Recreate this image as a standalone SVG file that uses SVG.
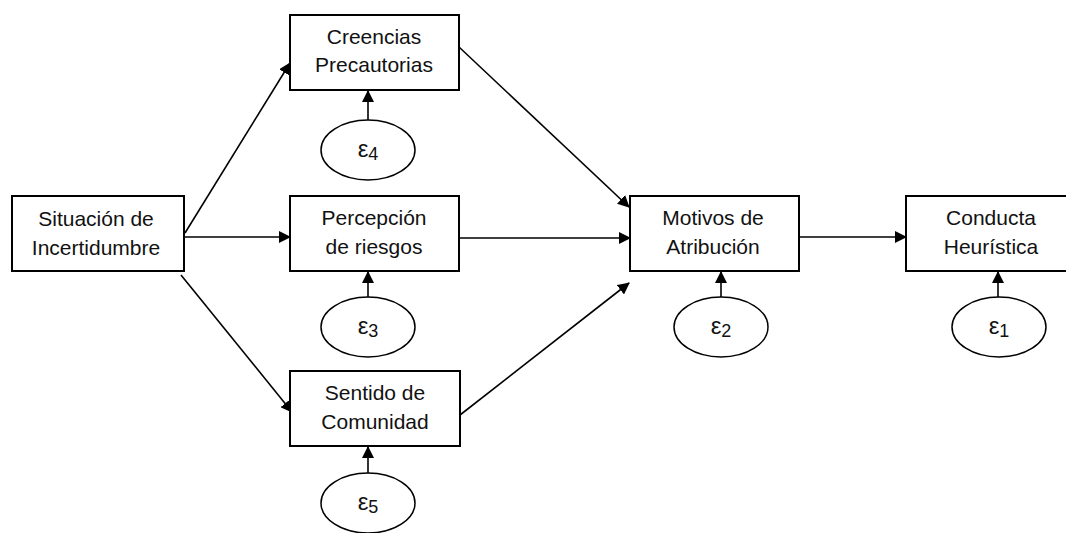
<svg xmlns="http://www.w3.org/2000/svg" width="1066" height="533" viewBox="0 0 1066 533">
<style>
.box{fill:#fff;stroke:#000;stroke-width:2}
.ell{fill:#fff;stroke:#000;stroke-width:1.5}
.lbl{font-family:"Liberation Sans",Arial,sans-serif;font-size:21px;fill:#111;text-anchor:middle}
.eps{font-family:"Liberation Sans",Arial,sans-serif;font-size:24px;fill:#111;text-anchor:middle}
.sub{font-size:18px}
.con{stroke:#000;stroke-width:1.6;fill:none;marker-end:url(#ah)}
</style>
<defs>
<marker id="ah" markerWidth="12" markerHeight="12" refX="11" refY="6" orient="auto" markerUnits="userSpaceOnUse">
<path d="M0,0 L12,6 L0,12 Z" fill="#000"/>
</marker>
</defs>
<rect width="1066" height="533" fill="#fff"/>
<g id="connectors">
<line class="con" x1="185" y1="233" x2="290" y2="63"/>
<line class="con" x1="185" y1="237" x2="290" y2="237"/>
<line class="con" x1="181" y1="275" x2="292" y2="412"/>
<line class="con" x1="459" y1="47" x2="629" y2="207"/>
<line class="con" x1="460" y1="238" x2="630" y2="238"/>
<line class="con" x1="460" y1="415" x2="629" y2="283"/>
<line class="con" x1="799" y1="237" x2="906" y2="237"/>
<line class="con" x1="368" y1="120" x2="368" y2="91"/>
<line class="con" x1="368" y1="297" x2="368" y2="272"/>
<line class="con" x1="368" y1="473" x2="368" y2="447"/>
<line class="con" x1="721" y1="297" x2="721" y2="272"/>
<line class="con" x1="998" y1="297" x2="998" y2="272"/>
</g>
<g id="situacion">
<rect class="box" x="12" y="196" width="172" height="75"/>
<text class="lbl" x="96" y="226">Situación de</text>
<text class="lbl" x="96" y="255">Incertidumbre</text>
</g>
<g id="creencias">
<rect class="box" x="290" y="15" width="169" height="75"/>
<text class="lbl" x="374" y="44">Creencias</text>
<text class="lbl" x="374" y="72">Precautorias</text>
</g>
<g id="percepcion">
<rect class="box" x="290" y="196" width="169" height="75"/>
<text class="lbl" x="374" y="225">Percepción</text>
<text class="lbl" x="374" y="254">de riesgos</text>
</g>
<g id="sentido">
<rect class="box" x="290" y="371" width="170" height="75"/>
<text class="lbl" x="375" y="400">Sentido de</text>
<text class="lbl" x="375" y="429">Comunidad</text>
</g>
<g id="motivos">
<rect class="box" x="630" y="196" width="169" height="75"/>
<text class="lbl" x="713" y="225">Motivos de</text>
<text class="lbl" x="713" y="254">Atribución</text>
</g>
<g id="conducta">
<rect class="box" x="906" y="196" width="169" height="75"/>
<text class="lbl" x="991" y="225">Conducta</text>
<text class="lbl" x="991" y="254">Heurística</text>
</g>
<g id="e4">
<ellipse class="ell" cx="368" cy="150" rx="47" ry="30"/>
<text class="eps" x="368" y="157">ε<tspan class="sub" dy="3">4</tspan></text>
</g>
<g id="e3">
<ellipse class="ell" cx="368" cy="327" rx="47" ry="30"/>
<text class="eps" x="368" y="334">ε<tspan class="sub" dy="3">3</tspan></text>
</g>
<g id="e5">
<ellipse class="ell" cx="368" cy="503" rx="47" ry="30"/>
<text class="eps" x="368" y="510">ε<tspan class="sub" dy="3">5</tspan></text>
</g>
<g id="e2">
<ellipse class="ell" cx="721" cy="327" rx="47" ry="30"/>
<text class="eps" x="721" y="334">ε<tspan class="sub" dy="3">2</tspan></text>
</g>
<g id="e1">
<ellipse class="ell" cx="999" cy="327" rx="47" ry="30"/>
<text class="eps" x="999" y="334">ε<tspan class="sub" dy="3">1</tspan></text>
</g>
</svg>
